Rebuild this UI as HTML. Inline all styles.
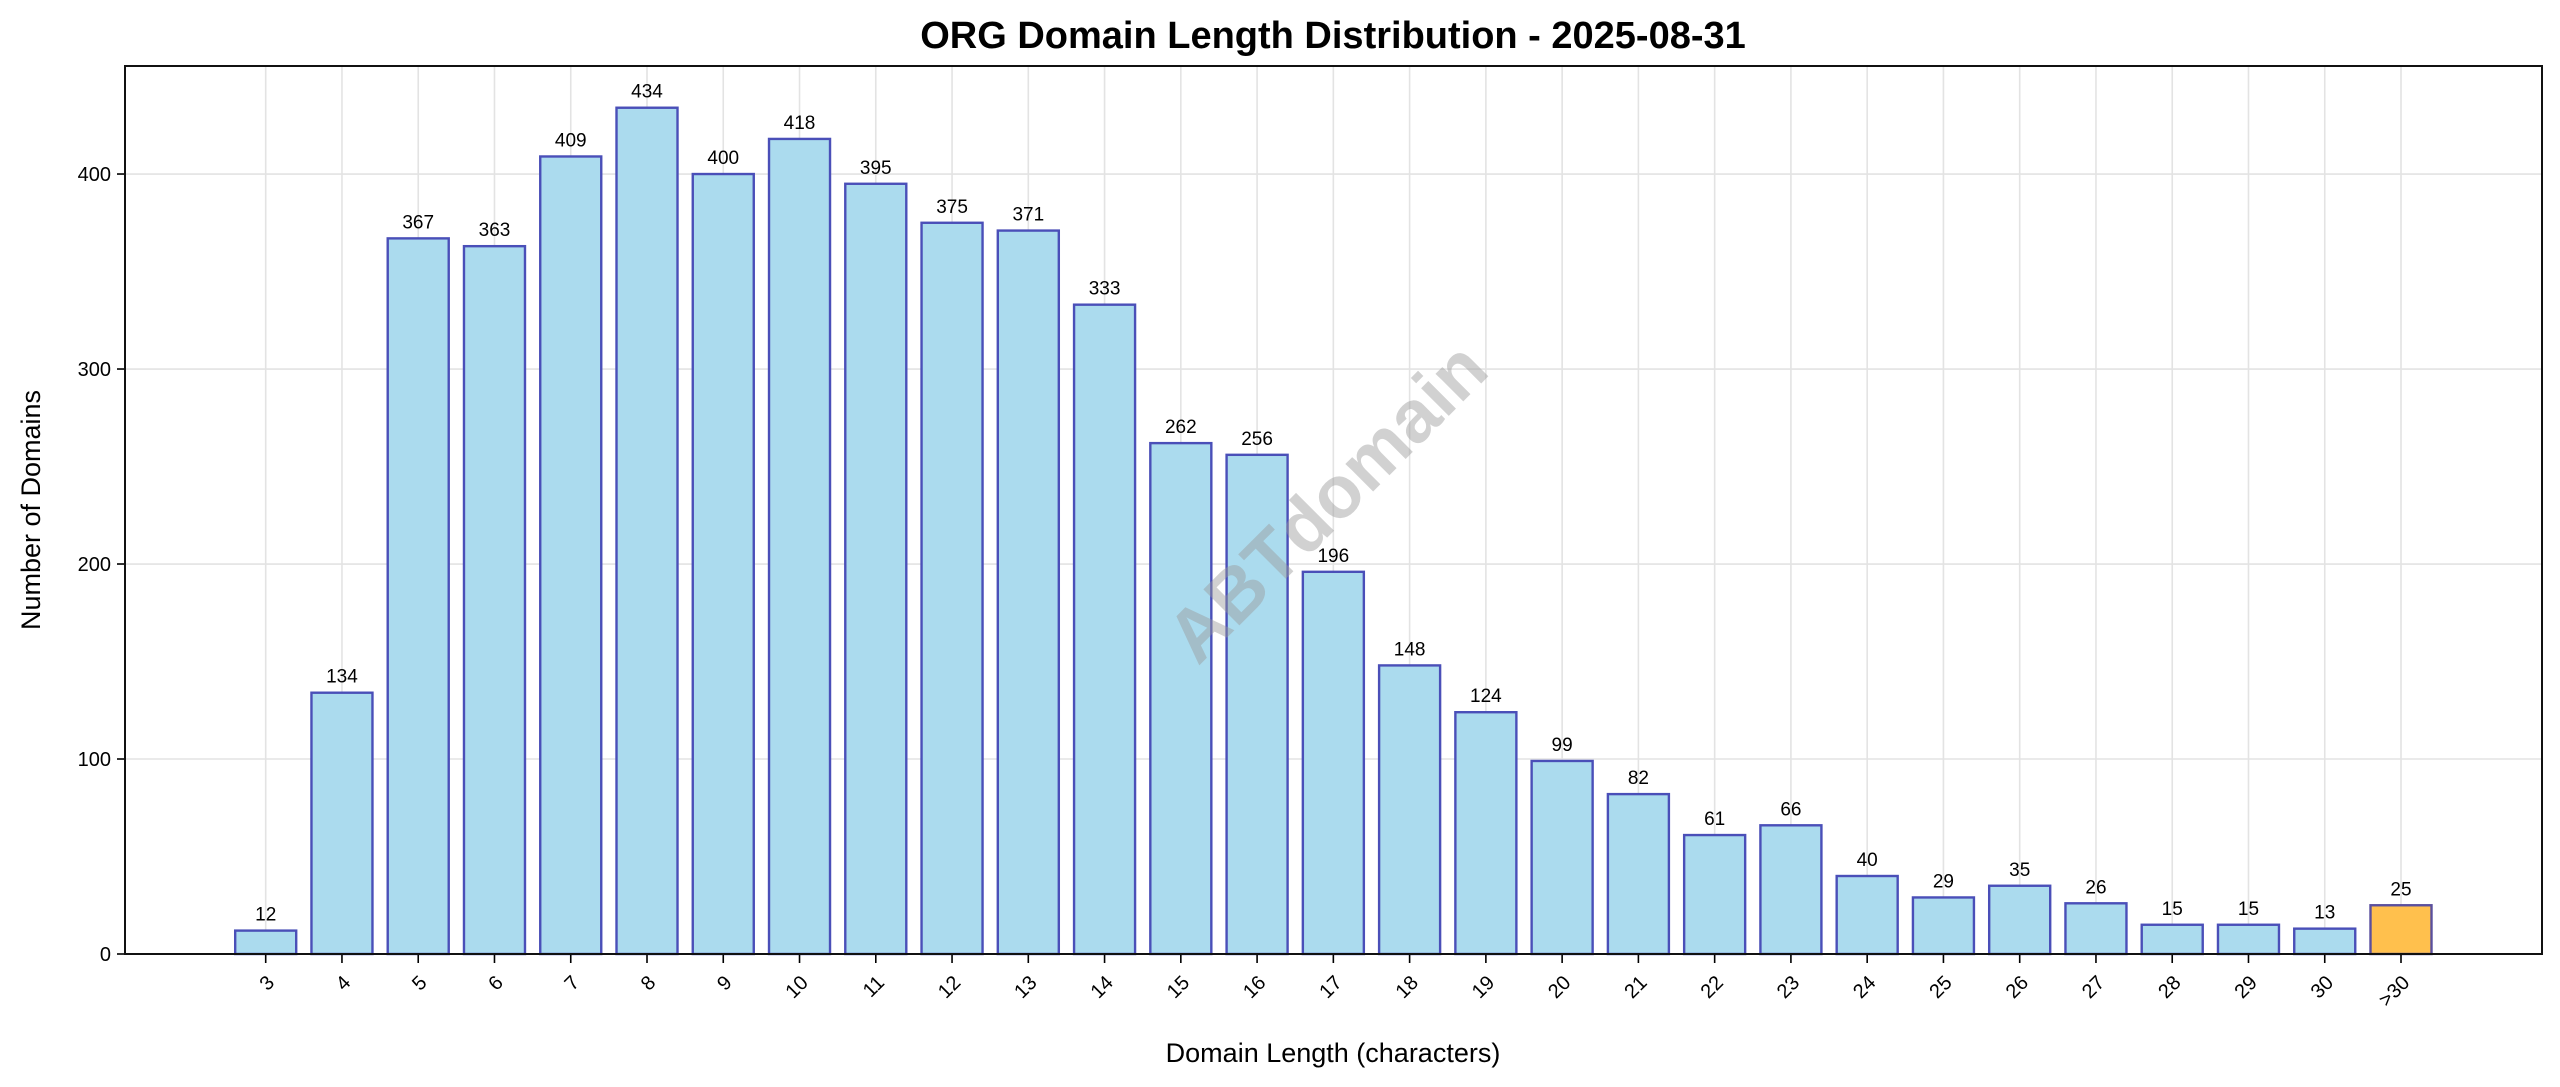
<!DOCTYPE html>
<html><head><meta charset="utf-8"><style>
body{margin:0;background:#fff}
svg{display:block;font-family:"Liberation Sans","DejaVu Sans",sans-serif}
</style></head><body>
<svg id="chart" width="2560" height="1087">
<rect width="2560" height="1087" fill="#fff"/>
<text x="1333" y="48" text-anchor="middle" font-size="38" font-weight="bold">ORG Domain Length Distribution - 2025-08-31</text>
<text x="1333" y="1062" text-anchor="middle" font-size="27">Domain Length (characters)</text>
<text transform="translate(40,510) rotate(-90)" text-anchor="middle" font-size="27">Number of Domains</text>
<g id="grid"></g><g id="bars"></g><g id="labels"></g><g id="axes"></g>
<text transform="translate(1331,506) rotate(-45)" text-anchor="middle" dominant-baseline="middle" font-size="74" font-weight="bold" fill="#999" fill-opacity="0.45">ABTdomain</text>
</svg>
<script>
const categories=["3","4","5","6","7","8","9","10","11","12","13","14","15","16","17","18","19","20","21","22","23","24","25","26","27","28","29","30",">30"];
const values=[12,134,367,363,409,434,400,418,395,375,371,333,262,256,196,148,124,99,82,61,66,40,29,35,26,15,15,13,25];
const yTicks=[0,100,200,300,400];
const L=125,R=2542,T=66,B=954,yMax=455.4;
const x0=265.7,step=(2401-265.7)/(categories.length-1);
const xs=i=>x0+i*step;
const ys=v=>B-(v/yMax)*(B-T);
const NS="http://www.w3.org/2000/svg";
function mk(t,a,p){const e=document.createElementNS(NS,t);for(const k in a)e.setAttribute(k,a[k]);p.appendChild(e);return e;}
const grid=document.getElementById('grid'),bars=document.getElementById('bars'),labels=document.getElementById('labels'),axes=document.getElementById('axes');
yTicks.forEach(v=>{
 const g=mk('line',{x1:L,x2:R,y1:ys(v),y2:ys(v),stroke:'#e3e3e3','stroke-width':1.6},grid);
 
 
 mk('line',{x1:L-8,x2:L,y1:ys(v),y2:ys(v),stroke:'#000','stroke-width':1.6},axes);
 const t=mk('text',{x:L-14,y:ys(v)+7,'text-anchor':'end','font-size':20},axes);
 t.textContent=v;
 
 
});
const bw=step*0.8;
categories.forEach((c,i)=>{
 const x=xs(i);
 const g=mk('line',{x1:x,x2:x,y1:T,y2:B,stroke:'#e3e3e3','stroke-width':1.6},grid);
 
 
 const last=i===categories.length-1;
 const r=mk('rect',{x:x-bw/2,y:ys(values[i]),width:bw,height:B-ys(values[i]),fill:last?'#ffc04d':'#abdbee',stroke:last?'#5a4f9e':'#4a4fb8','stroke-width':2.4},bars);
 
 
 const lb=mk('text',{x:x,y:ys(values[i])-10,'text-anchor':'middle','font-size':19},labels);
 lb.textContent=values[i];
 
 
 mk('line',{x1:x,x2:x,y1:B,y2:B+9,stroke:'#000','stroke-width':1.6},axes);
 const t=mk('text',{transform:`translate(${x+6},${B+26}) rotate(-45)`,'text-anchor':'end','font-size':20,'dominant-baseline':'middle'},axes);
 t.textContent=c;
 
 
});
const f=mk('rect',{x:L,y:T,width:R-L,height:B-T,fill:'none',stroke:'#111','stroke-width':2},axes);


</script>
</body></html>
